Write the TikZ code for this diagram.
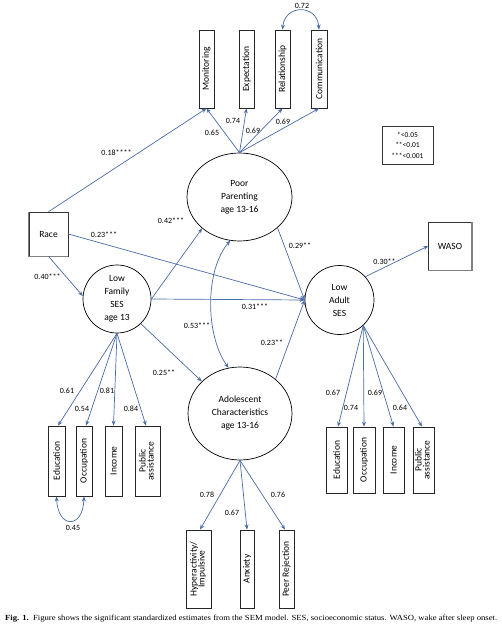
\documentclass[tikz,border=0pt]{standalone}
\usepackage{fontspec}
\usepackage{graphicx}
\setmainfont{Carlito}
\newfontfamily\capfont{Liberation Serif}
\usetikzlibrary{arrows.meta,shapes.geometric}
\definecolor{lineblue}{RGB}{74,108,168}
\begin{document}
\begin{tikzpicture}[x=1pt,y=-1pt,
 ind/.style={draw=black!85, line width=0.8pt, inner sep=0pt, font=\fontsize{9.5}{10}\selectfont},
 lat/.style={draw=black, line width=0.7pt, align=center, font=\fontsize{9.5}{13}\selectfont, inner sep=0pt},
 obs/.style={draw=black!80, line width=0.7pt, font=\fontsize{9.5}{11}\selectfont, inner sep=0pt},
 shade/.style={draw=black!50, line width=1.4pt},
 conn/.style={draw=lineblue, line width=0.7pt, -{Stealth[length=5pt,width=4pt]}},
 corr/.style={draw=lineblue, line width=0.7pt, {Stealth[length=5pt,width=4pt]}-{Stealth[length=5pt,width=4pt]}},
 lbl/.style={font=\fontsize{8}{9}\selectfont, inner sep=0pt}]
\useasboundingbox[fill=white] (0,0) rectangle (502,631);

% latent variables
\node[lat, ellipse, minimum width=105pt, minimum height=88pt] (pp) at (239.5,197) {Poor\\Parenting\\age 13-16};
\node[lat, ellipse, minimum width=104pt, minimum height=93pt] (ac) at (240,413.5) {Adolescent\\Characteristics\\age 13-16};
\node[lat, circle, minimum size=68pt] (lf) at (117,299) {Low\\Family\\SES\\age 13};
\node[lat, circle, minimum size=69pt] (la) at (339.5,300) {Low\\Adult\\SES};

% observed
\node[obs, minimum width=39pt, minimum height=44pt] (race) at (48.5,234) {Race};
\node[obs, minimum width=43pt, minimum height=48pt] (waso) at (450,246) {WASO};
\draw[shade] (race.north west) -- (race.south west) -- (race.south east);
\draw[shade] (waso.north east) -- (waso.south east) -- (waso.south west);

% legend
\node[draw=black!80, line width=0.7pt, minimum width=51pt, minimum height=38pt, align=center,
  font=\fontsize{7.5}{10.5}\selectfont, inner sep=0pt] (leg) at (407.5,145) {*<0.05\\**<0.01\\***<0.001};

% parenting indicators
\node[ind, minimum width=15pt, minimum height=78pt] (mon) at (206.5,69) {\rotatebox{90}{Monitoring}};
\node[ind, minimum width=15pt, minimum height=78pt] (exp) at (246.5,69) {\rotatebox{90}{Expectation}};
\node[ind, minimum width=15pt, minimum height=78pt] (rel) at (282.5,69) {\rotatebox{90}{Relationship}};
\node[ind, minimum width=16pt, minimum height=78pt] (com) at (319,69) {\rotatebox{90}{Communication}};

% family SES indicators
\node[ind, minimum width=17pt, minimum height=70pt] (fe) at (56.5,461) {\rotatebox{90}{Education}};
\node[ind, minimum width=16pt, minimum height=70pt] (fo) at (84,461) {\rotatebox{90}{Occupation}};
\node[ind, minimum width=17pt, minimum height=70pt] (fi) at (113.5,461) {\rotatebox{90}{Income}};
\node[ind, minimum width=25pt, minimum height=70pt] (fp) at (147.5,461) {\rotatebox{90}{\begin{tabular}{@{}c@{}}Public\\[-2pt]assistance\end{tabular}}};

% adult SES indicators
\node[ind, minimum width=21pt, minimum height=66pt] (ae) at (336.5,460) {\rotatebox{90}{Education}};
\node[ind, minimum width=22pt, minimum height=66pt] (ao) at (364,460) {\rotatebox{90}{Occupation}};
\node[ind, minimum width=21pt, minimum height=66pt] (ai) at (393.5,460) {\rotatebox{90}{Income}};
\node[ind, minimum width=21pt, minimum height=66pt] (ap) at (423.5,460) {\rotatebox{90}{\begin{tabular}{@{}c@{}}Public\\[-2pt]assistance\end{tabular}}};

% adolescent indicators
\node[ind, minimum width=25pt, minimum height=78pt] (hy) at (198.5,569) {\rotatebox{90}{\begin{tabular}{@{}c@{}}Hyperactivity/\\[-2pt]Impulsive\end{tabular}}};
\node[ind, minimum width=14pt, minimum height=78pt] (an) at (247,569) {\rotatebox{90}{Anxiety}};
\node[ind, minimum width=15pt, minimum height=78pt] (pr) at (286.5,569) {\rotatebox{90}{Peer Rejection}};

% loadings
\draw[conn] (pp.north) -- (mon.south);
\draw[conn] (pp.north) -- (exp.south);
\draw[conn] (pp.north) -- (rel.south);
\draw[conn] (pp.north) -- (com.south);
\draw[conn] (lf.south) -- ([xshift=1.5pt]fe.north);
\draw[conn] (lf.south) -- ([xshift=2pt]fo.north);
\draw[conn] (lf.south) -- (fi.north);
\draw[conn] (lf.south) -- ([xshift=-1.5pt]fp.north);
\draw[conn] (la.-47) -- ([xshift=1.5pt]ae.north);
\draw[conn] (la.-47) -- (ao.north);
\draw[conn] (la.-47) -- (ai.north);
\draw[conn] (la.-47) -- ([xshift=-1.5pt]ap.north);
\draw[conn] (ac.south) -- ([xshift=1.5pt]hy.north);
\draw[conn] (ac.south) -- (an.north);
\draw[conn] (ac.south) -- ([xshift=-1.5pt]pr.north);

% structural paths
\draw[conn] (race.north) -- (mon.south);
\draw[conn] (race.east) -- (la.west);
\draw[conn] (race.south) -- (lf.175);
\draw[conn] (lf.east) -- (pp.220);
\draw[conn] (lf.east) -- (la.west);
\draw[conn] (lf.-46) -- (ac.140);
\draw[conn] (pp.-39) -- (la.west);
\draw[conn] (ac.44) -- (la.west);
\draw[conn] (la.42) -- (waso.west);

% correlations
\draw[corr] (pp.258) .. controls (205,270) and (205,335) .. (ac.104);
\draw[corr] (rel.north) .. controls (285,4) and (317,4) .. (com.north);
\draw[corr] (fe.south) .. controls (58,529) and (83,529) .. (fo.south);

% labels
\node[lbl] (l72) at (302,6) {0.72};
\node[lbl] (l65) at (212,133) {0.65};
\node[lbl] (l74) at (233,121) {0.74};
\node[lbl] (l69a) at (253,131) {0.69};
\node[lbl] (l69b) at (283,122) {0.69};
\node[lbl] (l18) at (116.5,153) {0.18****};
\node[lbl] (l42) at (171,221) {0.42***};
\node[lbl] (l23a) at (104,235) {0.23***};
\node[lbl] (l29) at (300,246) {0.29**};
\node[lbl] (l30) at (384.5,262) {0.30**};
\node[lbl] (l40) at (47.5,277) {0.40***};
\node[lbl] (l31) at (255,307) {0.31***};
\node[lbl] (l53) at (197,326) {0.53***};
\node[lbl] (l25) at (164,373) {0.25**};
\node[lbl] (l23b) at (272,343) {0.23**};
\node[lbl] (l61) at (67,391) {0.61};
\node[lbl] (l54) at (82,409) {0.54};
\node[lbl] (l81) at (107,391) {0.81};
\node[lbl] (l84) at (131,409) {0.84};
\node[lbl] (l67a) at (333,393) {0.67};
\node[lbl] (l74b) at (351,408) {0.74};
\node[lbl] (l69c) at (375,393) {0.69};
\node[lbl] (l64) at (400,408) {0.64};
\node[lbl] (l45) at (73,528) {0.45};
\node[lbl] (l78) at (207,495) {0.78};
\node[lbl] (l67b) at (232,513) {0.67};
\node[lbl] (l76) at (278,495) {0.76};

% caption
\node[inner sep=0pt, anchor=west] (cap) at (5,619) {\resizebox{492pt}{5.5pt}{\capfont\textbf{Fig. 1.}\ \ Figure shows the significant standardized estimates from the SEM model. SES, socioeconomic status. WASO, wake after sleep onset.}};
\end{tikzpicture}
\end{document}
